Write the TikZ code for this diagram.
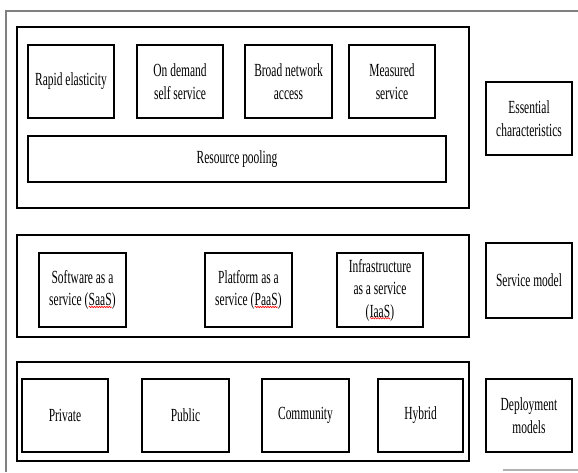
\documentclass[tikz,border=0pt]{standalone}
\usepackage{fontspec}
\setmainfont{Liberation Serif}[FakeStretch=0.62]
\usepackage{tikz}
\usetikzlibrary{positioning,decorations.pathmorphing}

% red wavy line of the spell checker
\newcommand{\spellerr}[1]{\tikz[baseline=(w.base)]{\node[draw=none, inner sep=0pt, outer sep=0pt, minimum width=0pt, minimum height=0pt] (w) {#1};
	\draw[red, line width=0.6pt, decorate, decoration={snake, amplitude=0.7pt, segment length=2.5pt}] ([yshift=-1pt]w.south west) -- ([yshift=-1pt]w.south east);}}

\begin{document}
\begin{tikzpicture}[x=1pt,y=-1pt,
		every node/.style={font=\fontsize{18.5}{22.5}\selectfont, align=center},
		group/.style={draw, line width=2pt, minimum width=452pt},
		item/.style={draw, line width=2pt, minimum width=86pt, minimum height=73pt, inner sep=1pt},
		label/.style={item}]
		\useasboundingbox (0,0) rectangle (578,472);
		% page frame
		\draw [gray, line width=1.2pt] (6,472) -- (6,11) -- (578,11);
		\draw [gray!60, line width=1.2pt] (503,470) -- (578,470);

		% essential characteristics
		\node [group, minimum height=181pt] (chars) at (243,117.5) {};
		\node [item] (rapid) at (71,81.5) {Rapid elasticity};
		\node [item] (demand) at (180,81.5) {On demand\\self service};
		\node [item, minimum width=87pt] (network) at (288.5,81.5) {Broad network\\access};
		\node [item] (measured) at (392,81.5) {Measured\\service};
		\node [item, minimum width=418pt, minimum height=46pt] (pooling) at (237,159) {Resource pooling};
		\node [label] (essential) at (529,118.5) {Essential\\characteristics};

		% service model
		\node [group, minimum height=102pt] (services) at (243,286) {};
		\node [item, minimum width=87pt, minimum height=74pt] (saas) at (82.5,290) {Software as a\\service (\spellerr{SaaS})};
		\node [item, minimum width=87pt, minimum height=74pt] (paas) at (248.5,290) {Platform as a\\service (\spellerr{PaaS})};
		\node [item, minimum height=74pt, inner sep=0pt] (iaas) at (380,290) {Infrastructure\\as a service\\(\spellerr{IaaS})};
		\node [label, minimum height=75pt] (servmodel) at (529,280.5) {Service model};

		% deployment models
		\node [group, minimum height=99pt] (deploys) at (243,411.5) {};
		\node [item] (private) at (65,415.5) {Private};
		\node [item, minimum width=87pt] (public) at (185.5,415.5) {Public};
		\node [item, minimum width=87pt] (community) at (305.5,415.5) {Community};
		\node [item, minimum width=85pt] (hybrid) at (420.5,415.5) {Hybrid};
		\node [label] (deploymodel) at (529,415.5) {Deployment\\models};
	\end{tikzpicture}
\end{document}
